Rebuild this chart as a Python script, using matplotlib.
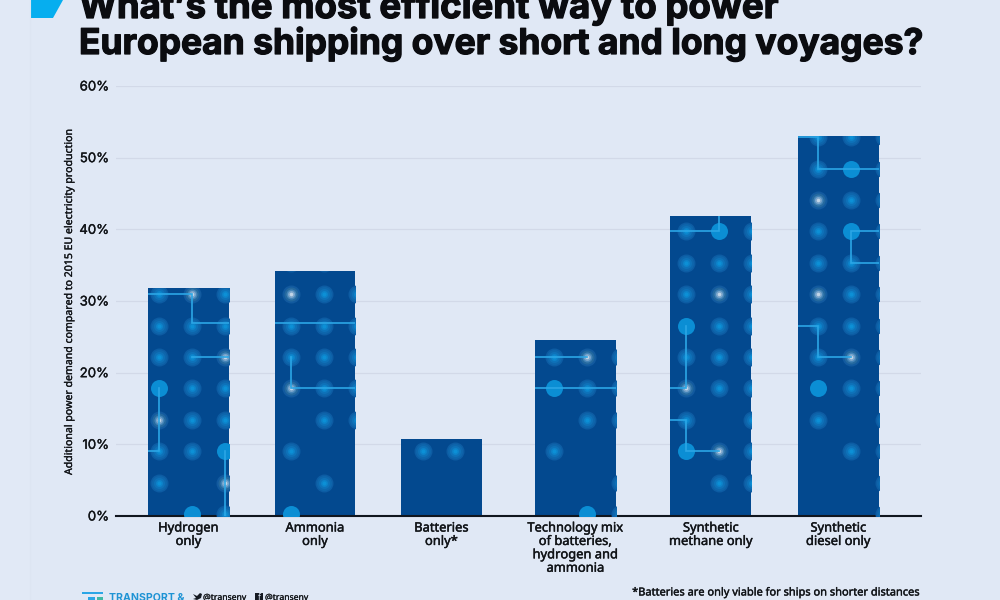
import matplotlib
matplotlib.use('Agg')
import matplotlib.pyplot as plt
import matplotlib.patheffects as pe
from matplotlib.patches import Polygon, Rectangle
import numpy as np

categories = ['Hydrogen\nonly', 'Ammonia\nonly', 'Batteries\nonly*',
              'Technology mix\nof batteries,\nhydrogen and\nammonia',
              'Synthetic\nmethane only', 'Synthetic\ndiesel only']
demand = [31.8, 34.2, 10.8, 24.5, 41.8, 53.0]
y_ticks = [0, 10, 20, 30, 40, 50, 60]

# dot texture per bar, top row first: n plain, B bright, w white centre
bar_dots = [
    ['nwn', 'nnn', 'nnw', 'Bnn', 'wnn', 'nnB', 'n.w', '.Bn'],
    ['nn.', 'wnn', 'nnn', 'nnn', 'wnn', '.nn', 'n..', '.n.', 'B..'],
    ['nn.', '...', '...'],
    ['nwn', 'Bnn', '.nn', 'n..', '..n', '.Bn'],
    ['nBn', 'nnn', 'nwn', 'Bnn', 'nnn', 'wnn', 'n.n', 'Bwn', '.nn', '...'],
    ['nnn', 'nBn', 'wnn', 'nBn', 'nnn', 'wnn', 'nnn', 'nwn', 'Bnn', 'n.n', '.nn', '..n', '..n'],
]
# circuit traces per bar as (column, row) nodes on the dot grid
bar_traces = [
    [[(-1, 7), (1, 7), (1, 6.08), (3, 6.08)], [(1, 5), (3, 5)], [(0, 4), (0, 2), (-1, 2)], [(2, 2), (2, -1)]],
    [[(-1, 6.08), (3, 6.08)], [(0, 5), (0, 4), (3, 4)]],
    [],
    [[(-1, 5), (1, 5)], [(-1, 4), (3, 4)]],
    [[(1, 10), (1, 9), (-1, 9)], [(0, 6), (0, 4), (-1, 4)], [(-1, 3), (0, 3), (0, 2), (1, 2)]],
    [[(-1, 12), (0, 12), (0, 11), (3, 11)], [(3, 9), (1, 9), (1, 8), (3, 8)], [(-1, 6), (0, 6), (0, 5), (1, 5)]],
]

# layout
bar_slots = [0, 0.973, 1.946, 2.977, 4.019, 5]
bar_width = 0.623
dot_dx = 33 / 130
dot_x0 = -0.2308
dot_dy = 31.4 * 60 / 430
dot_y0 = 0.28
first_column = [0, 4, 8, 12, 16, 20]

bg = '#e0e8f5'
bar_color = '#03498f'
text_color = '#111418'
body_font = 'Noto Sans'


def heavier(width, color=text_color):
    return [pe.withStroke(linewidth=width, foreground=color)]


fig = plt.figure(figsize=(10, 6), dpi=100, facecolor=bg)

deco = fig.add_axes([0, 0, 1, 1], zorder=0)
deco.set_xlim(0, 1000)
deco.set_ylim(600, 0)
deco.axis('off')

ax = fig.add_axes([0.116, 0.14, 0.805, 0.7167], zorder=1)
ax.patch.set_alpha(0)
ax.set_xlim(-0.558, 5.635)
ax.set_ylim(0, 60)
ax.grid(axis='y', color='#d2d9e8', lw=0.9, zorder=0)
ax.set_axisbelow(True)
for side in ['top', 'left', 'right']:
    ax.spines[side].set_visible(False)
ax.spines['bottom'].set_linewidth(1.5)
ax.spines['bottom'].set_color('#10161f')

bars = ax.bar(bar_slots, demand, width=bar_width, color=bar_color, zorder=2)

# concentric discs give each dot its soft glow
dot_layers = {
    'n': [(9, '#0d5ca3'), (7.5, '#0e66ac'), (5.5, '#0e72b9'), (3.5, '#0d82c9'), (2, '#0c90d6')],
    'B': [(8.5, '#0b8ed4')],
    'w': [(9, '#125a9f'), (7, '#24699f'), (5, '#4585b8'), (3.5, '#7ba6cc'), (1.8, '#c3d6e8')],
}


def px_size(r):
    return (2 * r * 0.72) ** 2


def draw_dot(x, y, kind, clip):
    for r, c in dot_layers[kind]:
        s = ax.scatter([x], [y], s=px_size(r), color=c, linewidths=0, zorder=3)
        s.set_clip_path(clip)


for i, rows in enumerate(bar_dots):
    clip = bars[i]
    x_first = dot_x0 + first_column[i] * dot_dx
    for j, row in enumerate(rows):
        row_index = len(rows) - 1 - j
        for col, kind in enumerate(row):
            if kind != '.':
                draw_dot(x_first + col * dot_dx, dot_y0 + row_index * dot_dy, kind, clip)
    for trace in bar_traces[i]:
        xs = [x_first + c * dot_dx for c, r in trace]
        ys = [dot_y0 + r * dot_dy for c, r in trace]
        line, = ax.plot(xs, ys, color='#2ba6e6', lw=1.2, zorder=4, solid_joinstyle='miter')
        line.set_clip_path(clip)

ax.set_xticks(bar_slots)
ax.set_xticklabels(categories, fontsize=9.3, fontfamily=body_font, color=text_color,
                   linespacing=1.04, path_effects=heavier(0.3))
ax.set_yticks(y_ticks)
ax.set_yticklabels([f'{v}%' for v in y_ticks], fontsize=9.5, fontfamily='Inter',
                   color=text_color, path_effects=heavier(0.25))
ax.tick_params(axis='both', length=0)
ax.tick_params(axis='x', pad=4)
ax.tick_params(axis='y', pad=5)

# page furniture, placed in pixel coordinates
deco.add_patch(Rectangle((0, 0), 30, 600, color='#e1e9f6', lw=0))
deco.plot([30, 30], [0, 600], color='#dde5f2', lw=0.8)
deco.add_patch(Polygon([(30, 0), (63, 0), (53, 18), (30, 18)], color='#06aeef', lw=0))

for y, size, line_text in [(18, 26.3, 'What\u2019s the most efficient way to power'),
                           (54, 25.5, 'European shipping over short and long voyages?')]:
    deco.text(79, y, line_text, fontsize=size, fontfamily='Inter', fontweight='bold',
              color='#0b0c10', va='baseline', ha='left', path_effects=heavier(0.9, '#0b0c10'))

deco.text(69.5, 301, 'Additional power demand compared to 2015 EU electricity production',
          rotation=90, fontsize=7.6, fontfamily=body_font, color=text_color,
          va='center', ha='center', path_effects=heavier(0.2))
deco.text(920, 595.5, '*Batteries are only viable for ships on shorter distances', fontsize=7.95,
          fontfamily=body_font, color=text_color, va='baseline', ha='right',
          path_effects=heavier(0.25))

# organisation footer
deco.add_patch(Rectangle((82, 592), 21, 2.2, color='#2ba6e6', lw=0))
deco.add_patch(Rectangle((88, 597), 7, 3, color='#2ba6e6', lw=0))
deco.add_patch(Rectangle((97, 597), 6, 3, color='#3fb8a5', lw=0))
deco.text(109, 601, 'TRANSPORT &', fontsize=7.6, fontfamily='Inter', fontweight='bold',
          color='#1e93d4', va='baseline', ha='left')
deco.add_patch(Polygon([(193, 594), (197, 596), (200, 593), (202, 594), (201, 598), (197, 600),
                        (193, 599), (196, 598)], color='#151a22', lw=0))
deco.text(203, 600, '@transenv', fontsize=6.2, fontfamily=body_font, color=text_color,
          va='baseline', ha='left', path_effects=heavier(0.15))
deco.add_patch(Rectangle((255, 593), 8, 7, color='#151a22', lw=0))
deco.text(259.5, 600, 'f', fontsize=6, fontfamily=body_font, fontweight='bold', color=bg,
          va='baseline', ha='center')
deco.text(265, 600, '@transenv', fontsize=6.2, fontfamily=body_font, color=text_color,
          va='baseline', ha='left', path_effects=heavier(0.15))

fig.savefig('out.png', dpi=100, facecolor=bg)
